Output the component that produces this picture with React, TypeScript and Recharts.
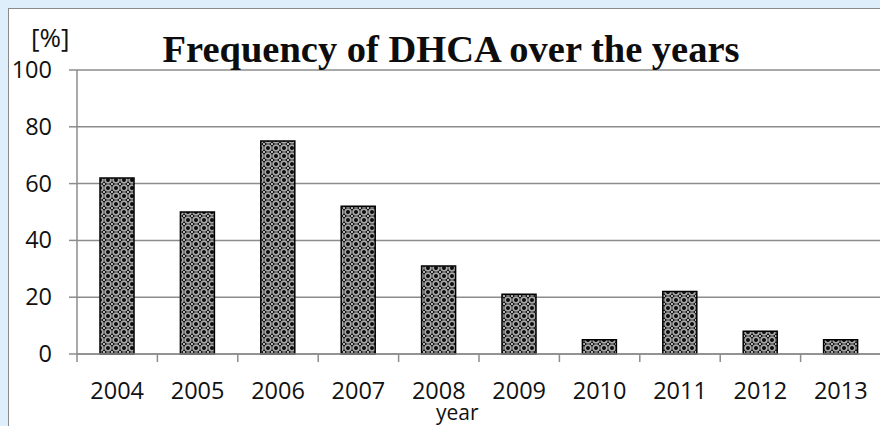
import { BarChart, Bar, XAxis, YAxis, CartesianGrid } from 'recharts'

const years = ['2004', '2005', '2006', '2007', '2008', '2009', '2010', '2011', '2012', '2013']
const frequency = [62, 50, 75, 52, 31, 21, 5, 22, 8, 5]
const yTicks = [0, 20, 40, 60, 80, 100]

const data = years.map((year, i) => ({ year, freq: frequency[i] }))

const SANS = "'Open Sans', 'Liberation Sans', sans-serif"
const GRID = '#8c8c8c'
const PLOT_W = 804

// category ticks sit at the band edges, like the spreadsheet original
const XTick = ({ x, y, payload }: any) => {
  const half = PLOT_W / years.length / 2
  return (
    <g>
      <line x1={x - half} x2={x - half} y1={y - 8} y2={y} stroke={GRID} strokeWidth={1.5} />
      <text x={x} y={y + 37} textAnchor="middle" fill="#111" fontFamily={SANS} fontSize={23.5}>
        {payload.value}
      </text>
    </g>
  )
}

const YTick = ({ x, y, payload }: any) => (
  <text x={x} y={y + 8} textAnchor="end" fill="#111" fontFamily={SANS} fontSize={23.5}>
    {payload.value}
  </text>
)

export default function App() {
  return (
    <div style={{ position: 'absolute', left: 0, top: 0, width: 880, height: 426, overflow: 'hidden', background: '#deeefa' }}>
      <div
        style={{
          position: 'absolute', left: 8, top: 8, width: 900, height: 440,
          background: '#fff', border: '1.5px solid #8a8a8a',
        }}
      />
      <div style={{ position: 'absolute', left: 0, top: 0 }}>
        <BarChart width={882} height={426} data={data} margin={{ top: 70, right: 1, bottom: 0, left: 0 }} barCategoryGap={0}>
          <defs>
            <pattern id="weave" width={8} height={8} patternUnits="userSpaceOnUse">
              <rect width={8} height={8} fill="#0e0e0e" />
              <circle cx={4} cy={4} r={2.9} fill="none" stroke="#a8a8a8" strokeWidth={1.8} />
              <circle cx={0} cy={0} r={1.1} fill="#d8d8d8" />
              <circle cx={8} cy={8} r={1.1} fill="#d8d8d8" />
              <circle cx={0} cy={8} r={1.1} fill="#d8d8d8" />
              <circle cx={8} cy={0} r={1.1} fill="#d8d8d8" />
            </pattern>
          </defs>
          <CartesianGrid vertical={false} stroke={GRID} strokeWidth={1.5} />
          <XAxis
            dataKey="year"
            height={72}
            stroke={GRID}
            strokeWidth={1.5}
            tickLine={false}
            interval={0}
            tick={<XTick />}
          />
          <YAxis
            domain={[0, 100]}
            ticks={yTicks}
            width={77}
            stroke={GRID}
            strokeWidth={1.5}
            tickSize={8}
            tickMargin={17}
            tickLine={{ stroke: GRID, strokeWidth: 1.5 }}
            tick={<YTick />}
          />
          <Bar dataKey="freq" barSize={34} fill="url(#weave)" stroke="#000" strokeWidth={1.5} isAnimationActive={false} />
        </BarChart>
      </div>
      <div style={{ position: 'absolute', left: 31, top: 21, fontFamily: SANS, fontSize: 26, lineHeight: '32px', color: '#111' }}>[%]</div>
      <div
        style={{
          position: 'absolute', left: 0, width: 902, top: 27, textAlign: 'center',
          fontFamily: "'Liberation Serif', serif", fontWeight: 700, fontSize: 38.5, lineHeight: '44px', color: '#0d0d0d',
        }}
      >
        Frequency of DHCA over the years
      </div>
      <div style={{ position: 'absolute', left: 436, top: 399, fontFamily: SANS, fontSize: 21, lineHeight: '26px', color: '#111' }}>year</div>
    </div>
  )
}
